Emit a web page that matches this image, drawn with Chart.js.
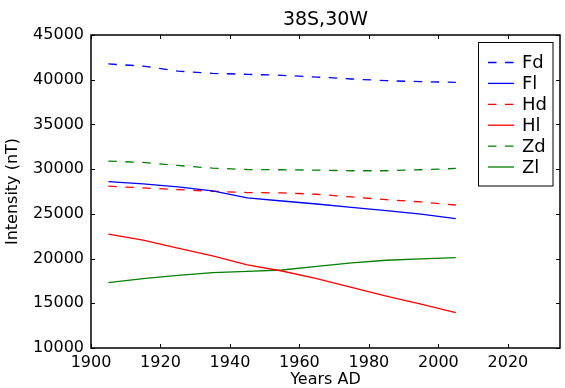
<!DOCTYPE html>
<html>
<head>
<meta charset="utf-8">
<script src="https://cdn.jsdelivr.net/npm/chart.js@4.4.0/dist/chart.umd.min.js"></script>
<style>
  html, body { margin: 0; padding: 0; background: #fff; }
  #wrap { width: 565px; height: 388px; position: relative; }
</style>
</head>
<body>
<div id="wrap"><canvas id="c" width="565" height="388"></canvas></div>
<script>
const years = [1905, 1915, 1925, 1935, 1945, 1955, 1965, 1975, 1985, 1995, 2005];
const Fd = [41760, 41530, 40970, 40710, 40600, 40490, 40300, 40080, 39890, 39780, 39710];
const Fl = [28610, 28350, 28010, 27570, 26780, 26440, 26100, 25730, 25350, 24980, 24460];
const Hd = [28090, 27900, 27710, 27530, 27380, 27340, 27190, 26890, 26590, 26330, 25990];
const Hl = [22730, 22060, 21160, 20300, 19290, 18610, 17750, 16770, 15800, 14900, 13960];
const Zd = [30900, 30750, 30410, 30110, 29960, 29930, 29890, 29820, 29820, 29930, 30080];
const Zl = [17300, 17750, 18120, 18420, 18570, 18720, 19130, 19510, 19810, 19960, 20110];
const seriesNames = ['Fd', 'Fl', 'Hd', 'Hl', 'Zd', 'Zl'];
const titleText = '38S,30W';
const xTitle = 'Years AD';
const yTitle = 'Intensity (nT)';

const FONT = "'DejaVu Sans', sans-serif";
const DASH = [8.5, 8.5];
const BLUE = '#0000ff', RED = '#ff0000', GREEN = '#008000';

function pts(vals) { return years.map((y, i) => ({ x: y, y: vals[i] })); }
function ds(label, vals, color, dashed) {
  return {
    label, data: pts(vals), borderColor: color, backgroundColor: color,
    borderWidth: 1.3, borderDash: dashed ? DASH : [], pointRadius: 0,
    tension: 0, fill: false
  };
}

const frameTicks = {
  id: 'frameTicks',
  afterDatasetsDraw(chart) {
    const { ctx, chartArea: a, scales } = chart;
    ctx.save();
    ctx.strokeStyle = '#000';
    ctx.lineWidth = 1;
    const L = 4;
    ctx.beginPath();
    scales.x.ticks.forEach(t => {
      const px = Math.round(scales.x.getPixelForValue(t.value)) + 0.5;
      ctx.moveTo(px, a.bottom); ctx.lineTo(px, a.bottom - L);
      ctx.moveTo(px, a.top); ctx.lineTo(px, a.top + L);
    });
    scales.y.ticks.forEach(t => {
      const py = Math.round(scales.y.getPixelForValue(t.value)) + 0.5;
      ctx.moveTo(a.left, py); ctx.lineTo(a.left + L, py);
      ctx.moveTo(a.right, py); ctx.lineTo(a.right - L, py);
    });
    ctx.stroke();
    ctx.lineWidth = 1.5;
    ctx.strokeRect(a.left, a.top, a.right - a.left, a.bottom - a.top);
    ctx.restore();
  }
};

const boxLegend = {
  id: 'boxLegend',
  afterDraw(chart) {
    const { ctx } = chart;
    const bx = 478.5, by = 42.5, bw = 74.5, bh = 143.5;
    ctx.save();
    ctx.fillStyle = '#fff';
    ctx.fillRect(bx, by, bw, bh);
    ctx.strokeStyle = '#000';
    ctx.lineWidth = 1;
    ctx.strokeRect(bx, by, bw, bh);
    ctx.font = '18px ' + FONT;
    ctx.textBaseline = 'middle';
    ctx.textAlign = 'left';
    chart.data.datasets.forEach((d, i) => {
      const y = 62.5 + i * 20.9;
      ctx.strokeStyle = d.borderColor;
      ctx.lineWidth = 1.3;
      ctx.setLineDash(d.borderDash.length ? [8.5, 8.5] : []);
      ctx.beginPath();
      ctx.moveTo(488, y); ctx.lineTo(514, y);
      ctx.stroke();
      ctx.setLineDash([]);
      ctx.fillStyle = '#000';
      ctx.fillText(d.label, 522, y + 1);
    });
    ctx.restore();
  }
};

new Chart(document.getElementById('c'), {
  type: 'line',
  data: {
    datasets: [
      ds(seriesNames[0], Fd, BLUE, true),
      ds(seriesNames[1], Fl, BLUE, false),
      ds(seriesNames[2], Hd, RED, true),
      ds(seriesNames[3], Hl, RED, false),
      ds(seriesNames[4], Zd, GREEN, true),
      ds(seriesNames[5], Zl, GREEN, false)
    ]
  },
  options: {
    responsive: false,
    animation: false,
    devicePixelRatio: 1,
    layout: { padding: { left: 0, right: 5, top: 0, bottom: 0 } },
    plugins: {
      legend: { display: false },
      tooltip: { enabled: false },
      title: {
        display: true, text: titleText, color: '#000', fullSize: false,
        font: { family: FONT, size: 19, weight: 'normal', lineHeight: 1.2 },
        padding: { top: 8.6, bottom: 3.6 }
      }
    },
    scales: {
      x: {
        type: 'linear', min: 1900, max: 2035,
        grid: { display: false, drawTicks: false },
        border: { display: false },
        ticks: { stepSize: 20, includeBounds: false, color: '#000', padding: 5,
          font: { family: FONT, size: 16 }, maxRotation: 0,
          callback: v => String(v) },
        title: { display: true, text: xTitle, color: '#000',
          font: { family: FONT, size: 16, lineHeight: 1.0 }, padding: { top: 0, bottom: 0 } },
        afterFit(s) { s.height = 40; }
      },
      y: {
        type: 'linear', min: 10000, max: 45000,
        grid: { display: false, drawTicks: false },
        border: { display: false },
        ticks: { stepSize: 5000, color: '#000', padding: 7,
          font: { family: FONT, size: 16 }, callback: v => String(v) },
        title: { display: true, text: yTitle, color: '#000',
          font: { family: FONT, size: 16, lineHeight: 1.2 }, padding: { top: 3, bottom: 0 } },
        afterFit(s) { s.width = 91; }
      }
    }
  },
  plugins: [frameTicks, boxLegend]
});
</script>
</body>
</html>
